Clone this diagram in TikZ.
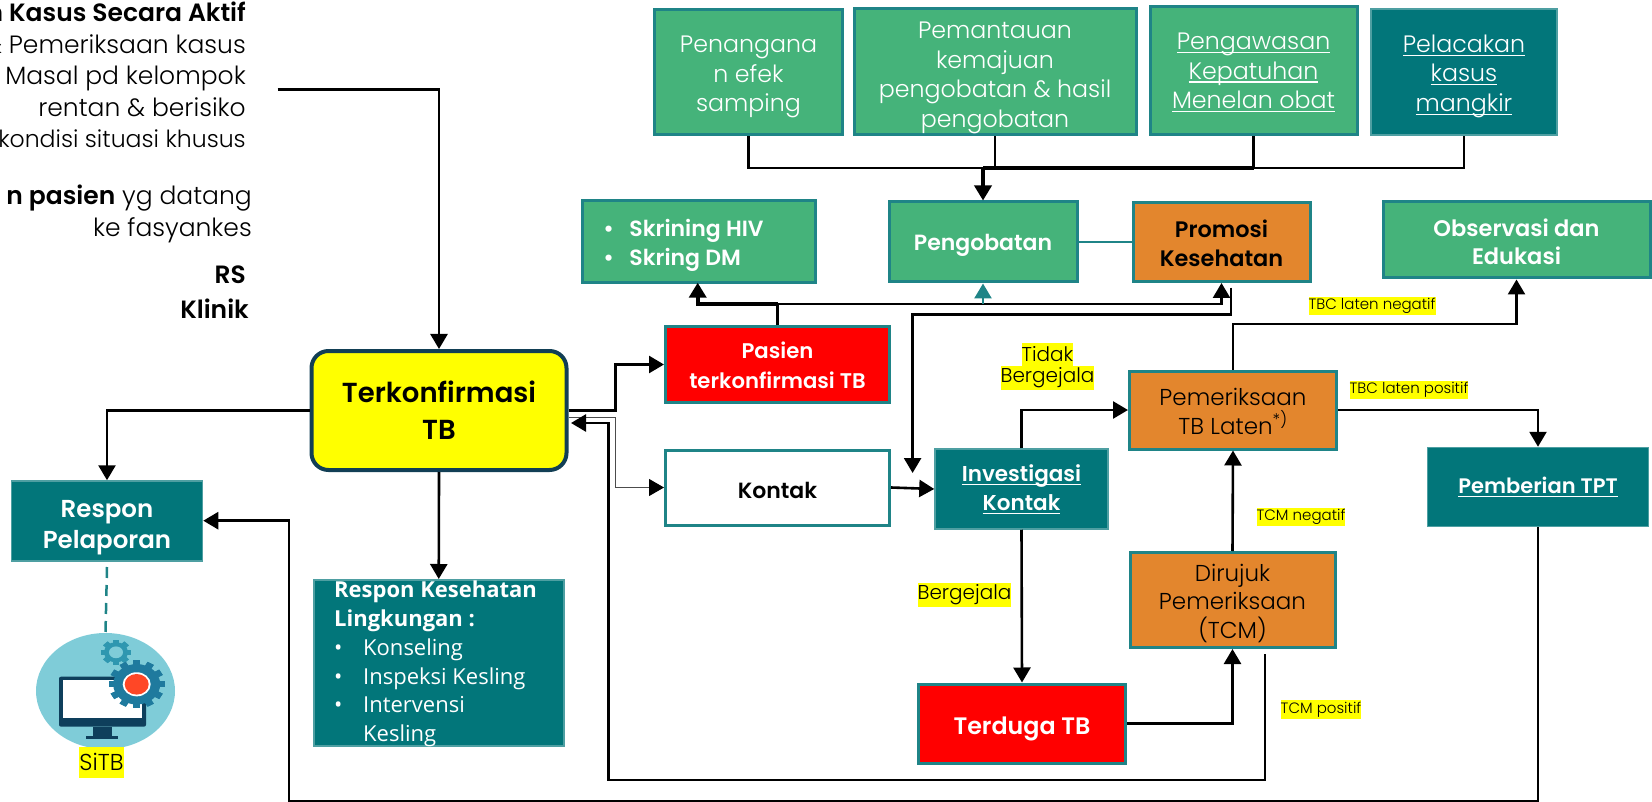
\documentclass[tikz,border=0pt]{standalone}
\usepackage{fontspec}
\setmainfont{Poppins Light}[BoldFont={Poppins SemiBold}]
\newfontfamily\hindf{Open Sans}
\usetikzlibrary{arrows.meta,calc,shapes.geometric}
\definecolor{grn}{HTML}{45B37A}
\definecolor{tl}{HTML}{02767A}
\definecolor{edge}{HTML}{1F8487}
\definecolor{org}{HTML}{E3862D}
\definecolor{navy}{HTML}{123F55}
\definecolor{icbg}{HTML}{7FCCD8}
\definecolor{icdark}{HTML}{0E3F5C}
\definecolor{gearb}{HTML}{1F7A9E}
\definecolor{gears}{HTML}{2F97B0}
\definecolor{yel}{RGB}{255,255,0}
\definecolor{rd}{RGB}{255,0,0}
\newcommand{\fs}[2]{\fontsize{#1}{#2}\selectfont}
\newcommand{\nd}[1]{\rule{0pt}{\dimexpr 0.76em+#1pt+#1pt\relax}}
\newsavebox{\ulbox}
\newcommand{\ul}[1]{\sbox{\ulbox}{#1}\makebox[0pt][l]{\rule[-3.6pt]{\wd\ulbox}{1.4pt}}\usebox{\ulbox}}
\tikzset{
  x=1pt,y=-1pt,
  boxn/.style={draw=edge,line width=3pt,align=center,inner sep=0pt,text=white,font=\fs{23.7}{29.5}},
  grnbox/.style={boxn,fill=grn},
  tlbox/.style={boxn,fill=tl,line width=1.5pt,draw=tl!70!white},
  orgbox/.style={boxn,fill=org,text=black},
  redbox/.style={boxn,fill=rd},
  ln/.style={draw=black,line width=2.6pt},
  tip/.style={-{Triangle[length=15pt,width=17pt,color=black,fill=black]}},
  arr/.style={ln,tip},
  hl/.style={fill=yel,inner sep=0pt,text=black},
  small/.style={hl,font=\fs{15}{18},minimum height=18.7pt},
  sidetxt/.style={anchor=north east,align=right,inner sep=0pt,font=\fs{25}{31.5}}
}
\begin{document}
\begin{tikzpicture}
\useasboundingbox (0,0) rectangle (1652,802);
% side texts
\node[sidetxt] (aktif) at (246,2) {\textbf{n Kasus Secara Aktif}\\\& Pemeriksaan kasus\\Masal pd kelompok\\rentan \& berisiko\\{\fs{23.6}{31.5}kondisi situasi khusus}};
\node[sidetxt] (pasif) at (252,185) {\textbf{n pasien} yg datang\\ke fasyankes};
\node[sidetxt] (rs) at (246,266) {\textbf{RS}};
\node[sidetxt] (klinik) at (249,299) {\textbf{Klinik}};
% top row
\node[grnbox,minimum width=188pt,minimum height=125pt] (efek) at (748.5,72.5) {\nd{4}Penangana\\n efek\\samping};
\node[grnbox,minimum width=282pt,minimum height=126pt] (pantau) at (995,72) {\nd{5}Pemantauan\\kemajuan\\pengobatan \& hasil\\pengobatan};
\node[grnbox,minimum width=207pt,minimum height=128pt] (awas) at (1253.5,71) {\nd{1}\ul{Pengawasan}\\\ul{Kepatuhan}\\\ul{Menelan obat}};
\node[tlbox,minimum width=186pt,minimum height=126pt] (lacak) at (1464,72) {\nd{4}\ul{Pelacakan}\\\ul{kasus}\\\ul{mangkir}};
% middle row
\node[grnbox,minimum width=233pt,minimum height=82pt,font=\bfseries\fs{22}{28.5},align=left] (skrin) at (698.5,241.5) {\nd{4}\makebox[26pt][l]{\textbullet}Skrining HIV\hspace*{30pt}\\\makebox[26pt][l]{\textbullet}Skring DM};
\node[grnbox,minimum width=188pt,minimum height=80pt,font=\bfseries\fs{22}{29}] (obat) at (983,242) {\nd{3}Pengobatan};
\node[orgbox,minimum width=177pt,minimum height=79pt,font=\bfseries\fs{22.4}{29}] (promosi) at (1221.5,242) {\nd{2}Promosi\\Kesehatan};
\node[grnbox,minimum width=267pt,minimum height=76pt,font=\bfseries\fs{22.5}{28.5}] (obs) at (1516.5,240) {\nd{2}Observasi dan\\Edukasi};
\node[redbox,minimum width=224pt,minimum height=75pt,font=\bfseries\fs{21.2}{29.5}] (pasien) at (777.5,364.5) {\nd{1}Pasien\\terkonfirmasi TB};
\node[boxn,fill=white,text=black,minimum width=224pt,minimum height=75pt,font=\bfseries\fs{22}{29}] (kontak) at (777.5,487.5) {\nd{3}Kontak};
\node[tlbox,minimum width=173pt,minimum height=80pt,font=\bfseries\fs{21.5}{29}] (invest) at (1021.5,489) {\nd{1}\ul{Investigasi}\\\ul{Kontak}};
\node[orgbox,minimum width=207pt,minimum height=78pt,font=\fs{23}{29}] (latent) at (1233,410) {\nd{1}Pemeriksaan\\TB Laten\textsuperscript{*)}};
\node[tlbox,minimum width=221pt,minimum height=79pt,font=\bfseries\fs{21}{29}] (tpt) at (1538,487) {\ul{Pemberian TPT}};
\node[orgbox,minimum width=205pt,minimum height=95pt,font=\fs{23}{28.5}] (rujuk) at (1232.5,600) {\nd{3}Dirujuk\\Pemeriksaan\\(TCM)};
\node[redbox,minimum width=207pt,minimum height=79pt,font=\bfseries\fs{23.8}{30}] (duga) at (1022,723.5) {\nd{5}Terduga TB};
% central
\node[draw=navy,line width=4pt,fill=yel,rounded corners=17pt,minimum width=255pt,minimum height=119pt,align=center,inner sep=0pt,font=\bfseries\fs{27.5}{37}] (tb) at (439,410.5) {Terkonfirmasi\\TB};
\node[tlbox,minimum width=191pt,minimum height=80pt,font=\bfseries\fs{24.5}{31}] (lapor) at (107,521) {\nd{6}Respon\\Pelaporan};
\node[tlbox,minimum width=250pt,minimum height=166pt,anchor=north west] (kesling) at (313,579) {};
\node[anchor=north west,align=left,inner sep=0pt,text=white,font=\hindf\fs{22}{28.7}] (keslingtxt) at (334,581) {\textbf{Respon Kesehatan}\\\textbf{Lingkungan :}\\\makebox[29pt][l]{\textbullet}Konseling\\\makebox[29pt][l]{\textbullet}Inspeksi Kesling\\\makebox[29pt][l]{\textbullet}Intervensi\\\makebox[29pt][l]{}Kesling};
% icon
\node[ellipse,fill=icbg,minimum width=139pt,minimum height=116pt,inner sep=0pt] (ic) at (105.5,691) {};
\begin{scope}[shift={(116,652.3)},yscale=.84]
  \foreach \a in {0,45,...,315} \fill[gears,rotate=\a] (-3.2,-15) rectangle (3.2,15);
  \fill[gears] (0,0) circle (12);
  \fill[icbg] (0,0) circle (7);
\end{scope}
\fill[icdark,rounded corners=2pt] (59,676.7) rectangle (146,726.7);
\fill[white] (62.7,680) rectangle (141.7,718);
\fill[icdark] (93,727) rectangle (112,737);
\fill[icdark] (85.7,736) rectangle (118,738.5);
\begin{scope}[shift={(136.7,684.3)},yscale=.86]
  \foreach \a in {0,30,...,330} \fill[gearb,rotate=\a] (-3.6,-28) rectangle (3.6,28);
  \fill[gearb] (0,0) circle (23.5);
  \fill[white] (0,0) circle (14);
  \fill[red!70!orange!85!white] (0,0) circle (12);
\end{scope}
% labels
\node[hl,font=\fs{23}{24},minimum height=31pt,minimum width=45pt] (sitb) at (101.5,762) {SiTB};
\node[hl,font=\fs{20}{24},minimum height=23pt] (tidak) at (1047.5,354.5) {Tidak};
\node[hl,font=\fs{20}{24},minimum height=24pt] (gej) at (1047.5,378) {Bergejala};
\node[hl,font=\fs{20}{24},minimum height=24pt] (gej2) at (964.5,595) {Bergejala};
\node[small] (neg) at (1372,306) {TBC laten negatif};
\node[small] (pos) at (1409,390) {TBC laten positif};
\node[small] (tneg) at (1301,517) {TCM negatif};
\node[small] (tpos) at (1321,709.5) {TCM positif};
% connectors
\coordinate (bus) at (983,168);
\draw[ln] (efek.south) -- (efek.south |- bus) -- (lacak.south |- bus) -- (lacak.south);
\draw[ln] (pantau.south) -- (pantau.south |- bus);
\draw[ln] (awas.south) -- (awas.south |- bus);
\draw[ln,line width=3.4pt] (bus) -- (awas.south |- bus);
\draw[arr,line width=3.5pt] (bus) -- (obat.north);
\coordinate (casestart) at (277.5,89.3);
\draw[arr] (casestart) -| (tb.north);
\draw[arr] (tb.west) -| (lapor.north);
\draw[arr] (tb.south) -- (kesling.north);
\draw[draw=edge,line width=2.5pt,dash pattern=on 11pt off 7pt] (lapor.south |- 0,567) -- (ic.north);
\coordinate (m1) at (615.6,410.5);
\draw[arr] (tb.east) -- (m1) |- (pasien.west);
\coordinate (m2) at (615.6,417.7);
\draw[tip,draw=black!70,line width=1pt] (tb.east |- m2) -- (m2) |- (kontak.west);
\coordinate (up) at (777.5,304);
\coordinate (skr) at (697.7,282.7);
\draw[ln,line width=3.8pt] (pasien.north) -- (up);
\draw[arr,line width=3.8pt] (up) -| (skr);
\draw[arr] (up) -| (promosi.south);
\draw[-{Triangle[length=15pt,width=17pt]},draw=edge,fill=edge,line width=2.6pt] (obat.south |- up) -- (obat.south);
\draw[draw=edge,line width=2.6pt] (obat.east) -- (promosi.west);
\coordinate (pk1) at (1231,287.7);
\coordinate (pk2) at (912.6,314.3);
\coordinate (pk3) at (912.6,473);
\draw[arr] (pk1) |- (pk2) -- (pk3);
\draw[arr] (kontak.east) -- (invest.west);
\coordinate (iv) at (1021.5,410);
\draw[arr] (invest.north) -- (iv) -- (latent.west);
\draw[arr] (latent.north) |- (obs.south |- 0,324) -- (obs.south);
\draw[arr] (latent.east) -| (tpt.north);
\draw[arr] (rujuk.north) -- (latent.south);
\draw[arr] (invest.south) -- (duga.north);
\draw[arr] (duga.east) -| (rujuk.south);
\coordinate (tcm) at (1265,654);
\coordinate (tr) at (608.6,780);
\coordinate (tbback) at (571,423);
\draw[arr] (tcm) |- (tr) |- (tbback);
\coordinate (bot) at (289,801);
\draw[arr] (tpt.south) |- (bot) |- (lapor.east |- 0,520.7);
\end{tikzpicture}
\end{document}
